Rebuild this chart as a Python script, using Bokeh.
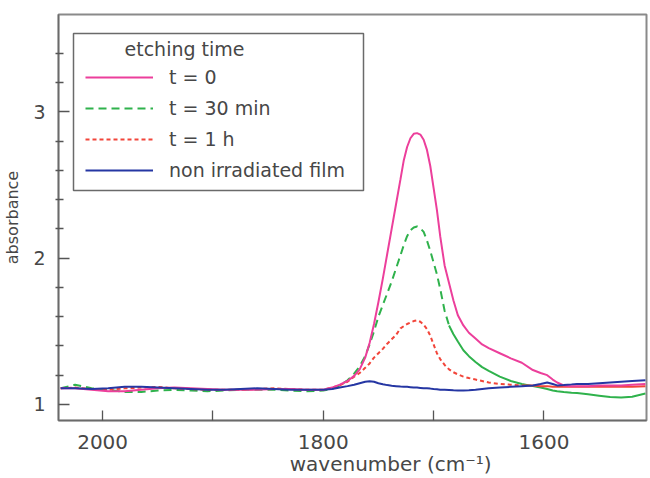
from bokeh.plotting import figure
from bokeh.models import FixedTicker, Legend, LegendItem, Range1d, Label, BoxAnnotation
from bokeh.embed import file_html
from bokeh.resources import INLINE

# IR absorbance spectra of the film for several etching times
wavenumber = [2038, 2025, 2010, 1995, 1980, 1965, 1950, 1935, 1920, 1905,
              1890, 1875, 1860, 1845, 1830, 1815,
              1800, 1792, 1785, 1778, 1772, 1767, 1762, 1758, 1754, 1750,
              1746, 1742, 1738, 1734, 1730, 1727, 1724, 1721, 1718, 1715,
              1712, 1709, 1706, 1703, 1700, 1697, 1694, 1690, 1686, 1682,
              1678, 1673, 1668, 1662, 1656, 1650,
              1640, 1630, 1620, 1610, 1603, 1597, 1592, 1588, 1582, 1575,
              1570, 1560, 1550, 1540, 1530, 1520, 1508]

abs_t0 = [1.11, 1.11, 1.10, 1.09, 1.09, 1.10, 1.11, 1.115, 1.11, 1.105,
          1.10, 1.10, 1.10, 1.105, 1.105, 1.10,
          1.10, 1.115, 1.135, 1.16, 1.195, 1.24, 1.32, 1.42, 1.55, 1.70,
          1.86, 2.03, 2.20, 2.37, 2.54, 2.67, 2.76, 2.82, 2.85, 2.855,
          2.845, 2.81, 2.74, 2.63, 2.48, 2.33, 2.15, 1.95, 1.83, 1.71,
          1.61, 1.54, 1.49, 1.45, 1.41, 1.385,
          1.35, 1.315, 1.285, 1.235, 1.215, 1.20, 1.17, 1.15, 1.13, 1.125,
          1.125, 1.125, 1.13, 1.13, 1.13, 1.135, 1.14]

abs_t30 = [1.11, 1.135, 1.11, 1.10, 1.085, 1.085, 1.095, 1.10, 1.095, 1.09,
           1.095, 1.10, 1.10, 1.10, 1.095, 1.09,
           1.095, 1.105, 1.13, 1.165, 1.21, 1.26, 1.33, 1.41, 1.50, 1.60,
           1.68, 1.76, 1.84, 1.93, 2.02, 2.09, 2.15, 2.19, 2.21, 2.217,
           2.205, 2.18, 2.12, 2.05, 1.97, 1.89, 1.79, 1.64, 1.54, 1.48,
           1.43, 1.37, 1.33, 1.29, 1.255, 1.23,
           1.19, 1.16, 1.14, 1.125, 1.115, 1.105, 1.095, 1.09, 1.085, 1.08,
           1.078, 1.07, 1.06, 1.05, 1.048, 1.053, 1.075]

abs_t1h = [1.11, 1.115, 1.105, 1.10, 1.11, 1.115, 1.12, 1.11, 1.105, 1.10,
           1.10, 1.10, 1.105, 1.11, 1.105, 1.10,
           1.10, 1.115, 1.13, 1.155, 1.19, 1.215, 1.25, 1.28, 1.32, 1.35,
           1.38, 1.415, 1.445, 1.475, 1.52, 1.535, 1.55, 1.56, 1.57, 1.575,
           1.565, 1.545, 1.515, 1.47, 1.41, 1.35, 1.31, 1.27, 1.24, 1.22,
           1.205, 1.19, 1.18, 1.17, 1.16, 1.15,
           1.14, 1.135, 1.13, 1.13, 1.125, 1.125, 1.12, 1.12, 1.12, 1.12,
           1.12, 1.12, 1.12, 1.12, 1.12, 1.12, 1.125]

abs_pristine = [1.11, 1.11, 1.105, 1.11, 1.12, 1.12, 1.115, 1.11, 1.105, 1.10,
                1.10, 1.105, 1.11, 1.105, 1.10, 1.10,
                1.10, 1.105, 1.115, 1.125, 1.135, 1.145, 1.155, 1.158, 1.155, 1.145,
                1.138, 1.132, 1.128, 1.125, 1.122, 1.12, 1.12, 1.118, 1.116, 1.115,
                1.113, 1.11, 1.11, 1.108, 1.105, 1.103, 1.10, 1.10, 1.098, 1.096,
                1.095, 1.095, 1.097, 1.10, 1.105, 1.11,
                1.115, 1.12, 1.125, 1.13, 1.14, 1.15, 1.14, 1.13, 1.133, 1.137,
                1.14, 1.14, 1.145, 1.15, 1.155, 1.16, 1.165]

series_labels = ["t = 0", "t = 30 min", "t = 1 h", "non irradiated film"]
legend_title = "etching time"
x_ticks = [2000, 1800, 1600]
x_minor = [1900, 1700]
y_ticks = [1, 2, 3]
y_minor = [1.2, 1.4, 1.6, 1.8, 2.2, 2.4, 2.6, 2.8, 3.2, 3.4]

FONT = "DejaVu Sans"
INK = "#474747"
PINK = "#ec3f9b"
GREEN = "#2fb24c"
RED = "#f2453a"
BLUE = "#2536a3"

p = figure(width=650, height=478, output_backend="svg", toolbar_location=None,
           x_range=Range1d(2040, 1507), y_range=Range1d(0.89, 3.666),
           min_border_left=56, min_border_right=4, min_border_top=14,
           min_border_bottom=58)
p.xgrid.visible = False
p.ygrid.visible = False
p.outline_line_color = "#8a8a8a"
p.outline_line_width = 2
p.background_fill_color = "white"
p.border_fill_color = "white"

# axes
p.xaxis.ticker = FixedTicker(ticks=x_ticks, minor_ticks=x_minor)
p.yaxis.ticker = FixedTicker(ticks=y_ticks, minor_ticks=y_minor)
for ax in (p.xaxis[0], p.yaxis[0]):
    ax.axis_line_color = "#6a6a6a"
    ax.axis_line_width = 1.5
    ax.major_tick_line_color = "#555555"
    ax.minor_tick_line_color = "#555555"
    ax.major_tick_line_width = 1.3
    ax.minor_tick_line_width = 1.3
    ax.major_label_text_font = FONT
    ax.major_label_text_font_size = "20px"
    ax.major_label_text_color = INK
    ax.axis_label_text_font = FONT
    ax.axis_label_text_color = INK
    ax.axis_label_text_font_style = "normal"

p.xaxis.major_tick_in = 10
p.xaxis.major_tick_out = 0
p.xaxis.minor_tick_in = 10
p.xaxis.minor_tick_out = 0
p.xaxis.major_label_standoff = 14
# leading no-break spaces push the centred title to the right of the frame centre
p.xaxis.axis_label = "\u00a0" * 12 + "wavenumber (cm\u207b\u00b9)"
p.xaxis.axis_label_text_font_size = "20px"
p.xaxis.axis_label_standoff = 0

p.yaxis.major_tick_in = 11
p.yaxis.major_tick_out = 0
p.yaxis.minor_tick_in = 5
p.yaxis.minor_tick_out = 3
p.yaxis.major_label_standoff = 10
p.yaxis.major_label_text_font_size = "19px"
p.yaxis.axis_label = "absorbance"
p.yaxis.axis_label_text_font_size = "16px"
p.yaxis.axis_label_standoff = 8

# split points where the dash pattern turns into a continuous trace
i_green = wavenumber.index(1686)
i_red = wavenumber.index(1620)

r_green_d = p.line(wavenumber[:i_green + 1], abs_t30[:i_green + 1], line_color=GREEN,
                   line_width=2, line_dash="8 5")
p.line(wavenumber[i_green:], abs_t30[i_green:], line_color=GREEN, line_width=2)
r_red_d = p.line(wavenumber[:i_red + 1], abs_t1h[:i_red + 1], line_color=RED,
                 line_width=2, line_dash="4 3")
p.line(wavenumber[i_red:], abs_t1h[i_red:], line_color=RED, line_width=2)
r_pink = p.line(wavenumber, abs_t0, line_color=PINK, line_width=2)
r_blue = p.line(wavenumber, abs_pristine, line_color=BLUE, line_width=2)

# legend frame (screen units, relative to the plot frame, y from bottom)
p.add_layout(BoxAnnotation(left=15, right=305, bottom=230, top=387,
                           left_units="screen", right_units="screen",
                           bottom_units="screen", top_units="screen",
                           fill_color="white", fill_alpha=1.0,
                           line_color="#6a6a6a", line_width=1.5, line_alpha=1.0))

legend = Legend(
    items=[LegendItem(label=series_labels[0], renderers=[r_pink]),
           LegendItem(label=series_labels[1], renderers=[r_green_d]),
           LegendItem(label=series_labels[2], renderers=[r_red_d]),
           LegendItem(label=series_labels[3], renderers=[r_blue])],
    location=(27, 239),
    orientation="vertical",
)
legend.label_text_font = FONT
legend.label_text_font_size = "19px"
legend.label_text_color = INK
legend.label_standoff = 16
legend.glyph_width = 68
legend.glyph_height = 20
legend.label_height = 20
legend.spacing = 9
legend.padding = 0
legend.margin = 0
legend.border_line_color = None
legend.background_fill_alpha = 0.0
p.add_layout(legend, "center")

p.add_layout(Label(x=126, y=372, x_units="screen", y_units="screen",
                   text=legend_title, text_align="center",
                   text_baseline="middle", text_font=FONT,
                   text_font_size="19px", text_color=INK))

open("out.html", "w").write(file_html(p, INLINE))
